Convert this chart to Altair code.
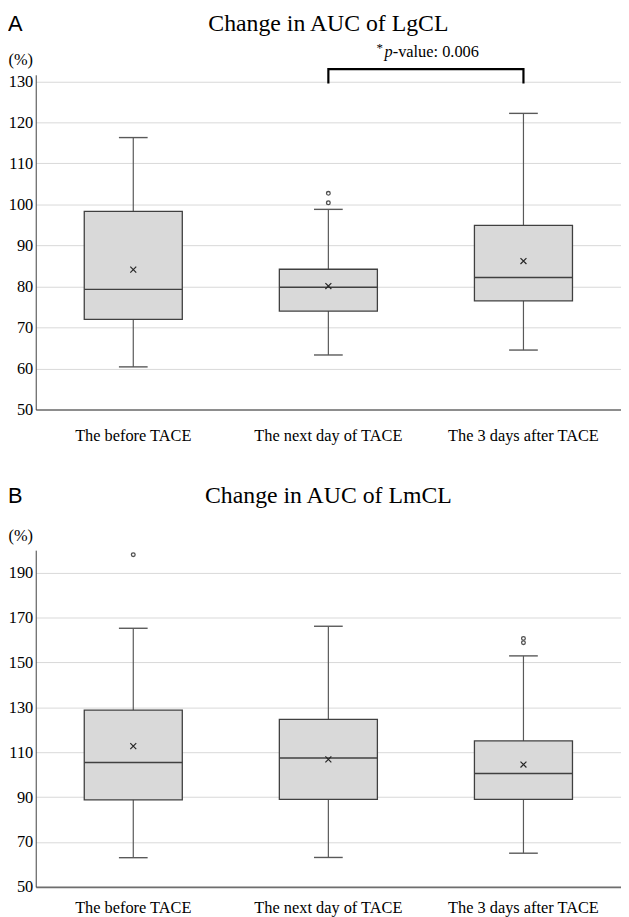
import altair as alt
import pandas as pd

categories = ["The before TACE", "The next day of TACE", "The 3 days after TACE"]

# Panel A: Change in AUC of LgCL
lg_low = [60.4, 63.3, 64.5]
lg_q1 = [72.0, 74.0, 76.5]
lg_med = [79.3, 79.8, 82.2]
lg_q3 = [98.3, 84.2, 94.9]
lg_high = [116.3, 98.8, 122.2]
lg_mean = [84.1, 80.1, 86.2]
lg_out_cat = ["The next day of TACE", "The next day of TACE"]
lg_out_val = [100.4, 102.7]
lg_ticks = [50, 60, 70, 80, 90, 100, 110, 120, 130]

# Panel B: Change in AUC of LmCL
lm_low = [63.0, 63.1, 65.0]
lm_q1 = [88.8, 89.0, 89.0]
lm_med = [105.4, 107.4, 100.5]
lm_q3 = [128.7, 124.6, 115.0]
lm_high = [165.2, 166.1, 152.9]
lm_mean = [112.7, 106.8, 104.5]
lm_out_cat = ["The before TACE", "The 3 days after TACE", "The 3 days after TACE"]
lm_out_val = [198.0, 158.8, 160.7]
lm_ticks = [50, 70, 90, 110, 130, 150, 170, 190]

# significance bracket (panel A)
bracket_cat = ["The next day of TACE", "The next day of TACE", "The 3 days after TACE", "The 3 days after TACE"]
bracket_val = [129.5, 133.0, 133.0, 129.5]
bracket_ord = [0, 1, 2, 3]
pvalue_rest = "-value: 0.006"

SERIF = "Liberation Serif"
SANS = "Liberation Sans"
PLOT_W = 591
BOX_W = 99
CAP_W = 29
EDGE = "#404040"
FS = 16.5


def panel(letter, title, low, q1, med, q3, high, mean, out_cat, out_val,
          domain, ticks, height, title_y, label_pad, with_bracket=False):
    stats = pd.DataFrame({"cat": categories, "low": low, "q1": q1, "med": med,
                          "q3": q3, "high": high, "mean": mean})
    outs = pd.DataFrame({"cat": out_cat, "val": out_val})

    xenc = alt.X("cat:N", sort=categories,
                 scale=alt.Scale(type="band", paddingInner=0, paddingOuter=0),
                 axis=alt.Axis(labelAngle=0, ticks=False, labelPadding=label_pad,
                               labelFont=SERIF, labelFontSize=FS, labelColor="black",
                               domainColor="#6e6e6e", domainWidth=1.6, grid=False,
                               labelLimit=300),
                 title=None)
    yscale = alt.Scale(domain=domain, nice=False, zero=False)
    yaxis = alt.Axis(values=ticks, grid=True, gridColor="#d9d9d9", gridWidth=1,
                     ticks=False, labelPadding=3, labelFont=SERIF, labelFontSize=FS,
                     labelColor="black", domainColor=EDGE, domainWidth=1,
                     title="(%)", titleAngle=0, titleAlign="left",
                     titleBaseline="middle", titleX=-28, titleY=-15,
                     titleFont=SERIF, titleFontSize=FS, titleFontWeight="normal",
                     titleColor="black")

    def Y(field):
        return alt.Y(field, scale=yscale, axis=yaxis)

    base = alt.Chart(stats)
    w_lo = base.mark_rule(color="#595959", strokeWidth=1.2).encode(
        x=xenc, y=Y("low:Q"), y2="q1:Q")
    w_hi = base.mark_rule(color="#595959", strokeWidth=1.2).encode(
        x=xenc, y=Y("q3:Q"), y2="high:Q")
    cap_lo = base.mark_tick(color="#595959", size=CAP_W, thickness=1.4, opacity=1).encode(
        x=xenc, y=Y("low:Q"))
    cap_hi = base.mark_tick(color="#595959", size=CAP_W, thickness=1.4, opacity=1).encode(
        x=xenc, y=Y("high:Q"))
    box = base.mark_bar(size=BOX_W, color="#d9d9d9", stroke=EDGE, strokeWidth=1.3).encode(
        x=xenc, y=Y("q1:Q"), y2="q3:Q")
    median = base.mark_tick(color=EDGE, size=BOX_W, thickness=1.4, opacity=1).encode(
        x=xenc, y=Y("med:Q"))
    mean_pt = base.mark_point(shape="M-1,-1L1,1M-1,1L1,-1", filled=False, size=36,
                              strokeWidth=1.2, color="#262626", opacity=1).encode(
        x=xenc, y=Y("mean:Q"))
    out_pt = alt.Chart(outs).mark_point(shape="circle", filled=False, size=14,
                                        strokeWidth=1.3, color="#505050", opacity=1).encode(
        x=xenc, y=Y("val:Q"))

    title_df = pd.DataFrame({"t": [title], "l": [letter]})
    title_txt = alt.Chart(title_df).mark_text(font=SERIF, fontSize=24, align="center",
                                              baseline="alphabetic", color="black").encode(
        text="t:N", x=alt.value(PLOT_W / 2), y=alt.value(title_y))
    letter_txt = alt.Chart(title_df).mark_text(font=SANS, fontSize=22, align="left",
                                               baseline="alphabetic", color="black").encode(
        text="l:N", x=alt.value(-28), y=alt.value(title_y))

    layers = [w_lo, w_hi, cap_lo, cap_hi, box, median, mean_pt, out_pt]

    if with_bracket:
        bdf = pd.DataFrame({"cat": bracket_cat, "val": bracket_val, "o": bracket_ord})
        bracket = alt.Chart(bdf).mark_line(color="black", strokeWidth=2.2,
                                            strokeCap="butt", strokeJoin="miter").encode(
            x=xenc, y=Y("val:Q"), order="o:Q")
        pdf = pd.DataFrame({"cat": ["The next day of TACE"], "val": [136.0],
                            "star": ["*"], "p": ["p"], "rest": [pvalue_rest]})
        ptxt = alt.Chart(pdf)
        star = ptxt.mark_text(font=SERIF, fontSize=13, align="right", baseline="alphabetic",
                              dx=55, dy=-5, color="black").encode(
            x=xenc, y=Y("val:Q"), text="star:N")
        pital = ptxt.mark_text(font=SERIF, fontSize=FS, fontStyle="italic", align="right",
                               baseline="alphabetic", dx=65, color="black").encode(
            x=xenc, y=Y("val:Q"), text="p:N")
        rest = ptxt.mark_text(font=SERIF, fontSize=FS, align="left", baseline="alphabetic",
                              dx=65, color="black").encode(
            x=xenc, y=Y("val:Q"), text="rest:N")
        layers += [bracket, star, pital, rest]

    layers += [title_txt, letter_txt]
    return alt.layer(*layers).properties(width=PLOT_W, height=height)


top = panel("A", "Change in AUC of LgCL", lg_low, lg_q1, lg_med, lg_q3, lg_high, lg_mean,
            lg_out_cat, lg_out_val, [50, 131.6], lg_ticks, 338, -44, 18, with_bracket=True)
bottom = panel("B", "Change in AUC of LmCL", lm_low, lm_q1, lm_med, lm_q3, lm_high, lm_mean,
               lm_out_cat, lm_out_val, [50, 200], lm_ticks, 340, -48, 13)

chart = alt.vconcat(top, bottom, spacing=40).properties(
    padding={"left": 0, "top": 0, "right": 0, "bottom": 0}
).configure_view(stroke=None)

chart.save("out.html", embed_options={"renderer": "svg", "actions": False})
